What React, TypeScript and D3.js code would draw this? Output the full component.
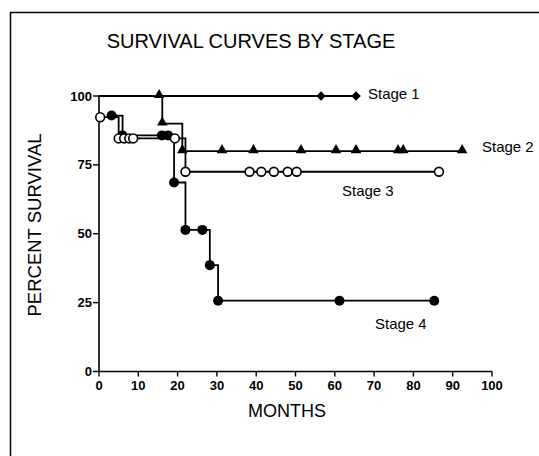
import React from "react";
import * as d3 from "d3";

const xTicks = [0, 10, 20, 30, 40, 50, 60, 70, 80, 90, 100];
const yTicks = [0, 25, 50, 75, 100];

const stage1Months = [0, 56.5, 65.4];
const stage1Pct = [100, 100, 100];
const stage1Marked = [false, true, true];

const stage2Months = [0, 15.3, 16.1, 21.2, 31.3, 39.3, 51.4, 60.3, 65.4, 76.1, 77.4, 92.4];
const stage2Pct = [100, 100, 90, 80, 80, 80, 80, 80, 80, 80, 80, 80];
const stage2Marked = [false, true, true, true, true, true, true, true, true, true, true, true];

const stage3Months = [0.3, 5.0, 6.4, 7.7, 8.7, 19.3, 22.0, 38.3, 41.3, 44.5, 48.0, 50.3, 86.5];
const stage3Pct = [92.3, 84.6, 84.6, 84.6, 84.6, 84.6, 72.5, 72.5, 72.5, 72.5, 72.5, 72.5, 72.5];

const stage4Months = [3.2, 6.0, 16.0, 17.6, 19.1, 22.0, 26.3, 28.2, 30.3, 61.2, 85.3];
const stage4Pct = [92.9, 85.7, 85.7, 85.7, 68.6, 51.4, 51.4, 38.6, 25.7, 25.7, 25.7];

const stageLabels = ["Stage 1", "Stage 2", "Stage 3", "Stage 4"];

const FONT = "'Liberation Sans', Arial, Helvetica, sans-serif";

export default function App() {
  const W = 539;
  const H = 456;
  const x = d3.scaleLinear().domain([0, 100]).range([99, 492]);
  const y = d3.scaleLinear().domain([0, 100]).range([371.5, 96]);

  const line = d3
    .line<[number, number]>()
    .x((d) => x(d[0]))
    .y((d) => y(d[1]))
    .curve(d3.curveStepAfter);

  const pts = (m: number[], p: number[]) => m.map((v, i) => [v, p[i]] as [number, number]);

  const s1 = pts(stage1Months, stage1Pct);
  const s2 = pts(stage2Months, stage2Pct);
  const s3 = pts(stage3Months, stage3Pct);
  const s4 = pts(stage4Months, stage4Pct);

  const lw = 1.8;
  const tri = d3.symbol().type(d3.symbolTriangle).size(48)();
  const dia = d3.symbol().type(d3.symbolDiamond2).size(58)();

  return (
    <svg width={W} height={H} style={{ display: "block", position: "absolute", left: 0, top: 0 }}>
      <rect x={0} y={0} width={W} height={H} fill="#fff" />
      {/* frame */}
      <path d={`M10.5,${H + 5} V12.5 H${W + 5}`} fill="none" stroke="#000" strokeWidth={1.5} />

      <text x={251} y={48} textAnchor="middle" fontFamily={FONT} fontSize={20} fill="#000">
        SURVIVAL CURVES BY STAGE
      </text>

      {/* axes */}
      <line x1={x(0)} x2={x(0)} y1={y(0)} y2={y(100)} stroke="#000" strokeWidth={1.6} />
      <line x1={x(0)} x2={x(100)} y1={y(0)} y2={y(0)} stroke="#000" strokeWidth={1.6} />
      {yTicks.map((t) => (
        <g key={"y" + t}>
          <line x1={x(0) - 6} x2={x(0)} y1={y(t)} y2={y(t)} stroke="#000" strokeWidth={1.4} />
          <text
            x={x(0) - 7}
            y={y(t) + 4.5}
            textAnchor="end"
            fontFamily={FONT}
            fontSize={13}
            fontWeight="bold"
            fill="#000"
          >
            {t}
          </text>
        </g>
      ))}
      {xTicks.map((t) => (
        <g key={"x" + t}>
          <line x1={x(t)} x2={x(t)} y1={y(0)} y2={y(0) + 5} stroke="#000" strokeWidth={1.4} />
          <text
            x={x(t)}
            y={y(0) + 18}
            textAnchor="middle"
            fontFamily={FONT}
            fontSize={13}
            fontWeight="bold"
            fill="#000"
          >
            {t}
          </text>
        </g>
      ))}

      <text
        transform={`translate(41,225) rotate(-90)`}
        textAnchor="middle"
        fontFamily={FONT}
        fontSize={18.5}
        fill="#000"
      >
        PERCENT SURVIVAL
      </text>
      <text x={287} y={417} textAnchor="middle" fontFamily={FONT} fontSize={18} fill="#000">
        MONTHS
      </text>

      {/* Stage 4 */}
      <path d={line(s4) || ""} fill="none" stroke="#000" strokeWidth={lw} />
      {s4.map((d, i) => (
        <circle key={"s4" + i} cx={x(d[0])} cy={y(d[1])} r={5} fill="#000" />
      ))}

      {/* Stage 3 */}
      <path d={line(s3) || ""} fill="none" stroke="#000" strokeWidth={lw} />
      {s3.map((d, i) => (
        <circle key={"s3" + i} cx={x(d[0])} cy={y(d[1])} r={4.4} fill="#fff" stroke="#000" strokeWidth={1.6} />
      ))}

      {/* Stage 2 */}
      <path d={line(s2) || ""} fill="none" stroke="#000" strokeWidth={lw} />
      {s2.map((d, i) =>
        stage2Marked[i] ? (
          <path key={"s2" + i} d={tri || ""} transform={`translate(${x(d[0])},${y(d[1]) - 1})`} fill="#000" />
        ) : null
      )}

      {/* Stage 1 */}
      <path d={line(s1) || ""} fill="none" stroke="#000" strokeWidth={lw} />
      {s1.map((d, i) =>
        stage1Marked[i] ? (
          <path key={"s1" + i} d={dia || ""} transform={`translate(${x(d[0])},${y(d[1])})`} fill="#000" />
        ) : null
      )}

      <text x={368} y={99} fontFamily={FONT} fontSize={15} fill="#000">
        {stageLabels[0]}
      </text>
      <text x={482} y={152} fontFamily={FONT} fontSize={15} fill="#000">
        {stageLabels[1]}
      </text>
      <text x={342} y={196} fontFamily={FONT} fontSize={15} fill="#000">
        {stageLabels[2]}
      </text>
      <text x={375} y={329} fontFamily={FONT} fontSize={15} fill="#000">
        {stageLabels[3]}
      </text>
    </svg>
  );
}
